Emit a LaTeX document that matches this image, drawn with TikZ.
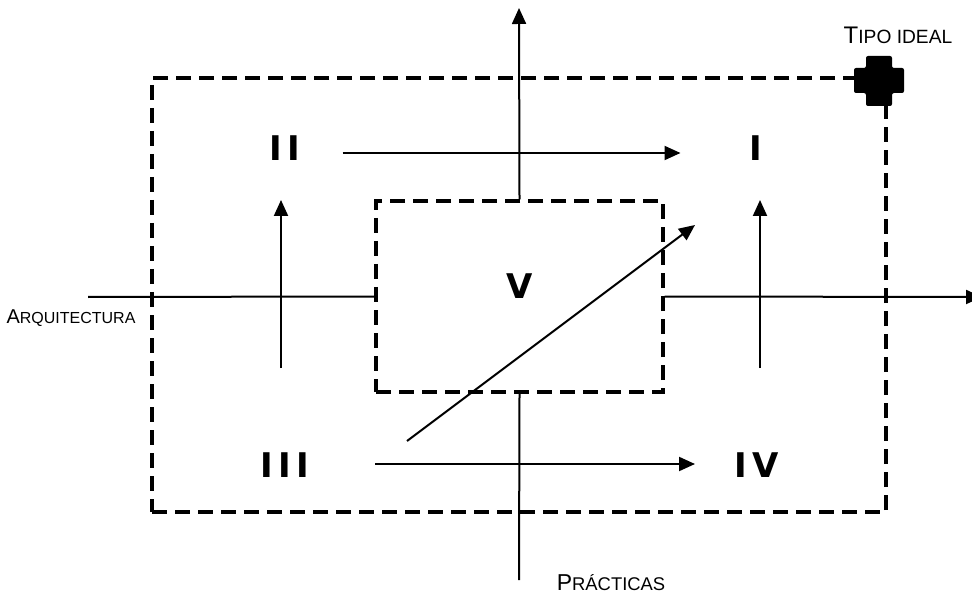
\documentclass[tikz,border=0pt]{standalone}
\usepackage{fontspec}
\setmainfont{Liberation Sans}
\newfontfamily\numfont{DejaVu Sans}[LetterSpace=16]
\usetikzlibrary{positioning,arrows.meta,calc}
% small caps faked with two sizes
\newcommand{\smcap}[3][10]{{\fontsize{#1}{#1}\selectfont #2}{\fontsize{\fpeval{0.8*#1}}{#1}\selectfont #3}}
\begin{document}
\begin{tikzpicture}[
  x=0.5pt, y=-0.5pt,
  >={Triangle[length=8pt,width=7pt]},
  num/.style={font=\numfont\bfseries\fontsize{17}{17}\selectfont,inner sep=0pt},
  lbl/.style={inner sep=0pt},
  dashbox/.style={draw,line width=1.6pt,dash pattern=on 7.5pt off 4pt,inner sep=0pt},
  axis/.style={line width=1pt},
  flow/.style={->,line width=1pt},
]
\useasboundingbox (0,0) rectangle (972,598);
% frames
\node[dashbox,minimum width=367pt,minimum height=217pt] (frame) at (519,295) {};
\node[dashbox,minimum width=143.5pt,minimum height=95.5pt] (core) at (519.5,296.5) {};
% quadrants
\node[num] (II)  at (284.5,148) {II};
\node[num] (I)   at (755.5,148) {I};
\node[num] (III) at (285,465)   {III};
\node[num] (IV)  at (757,465)   {IV};
\node[num] (V)   at (519.5,286) {V};
% labels
\node[lbl] (arq)  at (71,318)  {\smcap[10]{A}{RQUITECTURA}};
\node[lbl] (prac) at (611,583) {\smcap[11.5]{P}{RÁCTICAS}};
\node[lbl] (tipo) at (898,35)  {\smcap[12]{T}{IPO IDEAL}};
% axes
\coordinate (top)   at (519,8);
\coordinate (bot)   at (519,580);
\coordinate (left)  at (88,297);
\coordinate (right) at (982,297);
\draw[flow] (core.north) -- (top);
\draw[axis] (core.south) -- (bot);
\draw[axis] (core.west) -- (left);
\draw[flow] (core.east) -- (right);
% moves between types
\draw[flow] ($(II)+(58,5)$) -- ($(I)+(-75,5)$);
\draw[flow] ($(III)+(90,-1)$) -- ($(IV)+(-62,-1)$);
\draw[flow] ($(III)+(-4,-97)$) -- ($(II)+(-3.5,52)$);
\draw[flow] ($(IV)+(3,-97)$) -- ($(I)+(4.5,52)$);
\draw[flow] ($(III)+(122,-24)$) -- ($(I)+(-60.5,77)$);
% ideal type marker
\coordinate (star) at (879,81);
\fill[rounded corners=1pt] (star) ++(-13,-25) -- ++(26,0) -- ++(0,12) -- ++(12,0) -- ++(0,25) -- ++(-12,0)
  -- ++(0,13) -- ++(-26,0) -- ++(0,-13) -- ++(-12,0) -- ++(0,-25) -- ++(12,0) -- cycle;
\end{tikzpicture}
\end{document}
